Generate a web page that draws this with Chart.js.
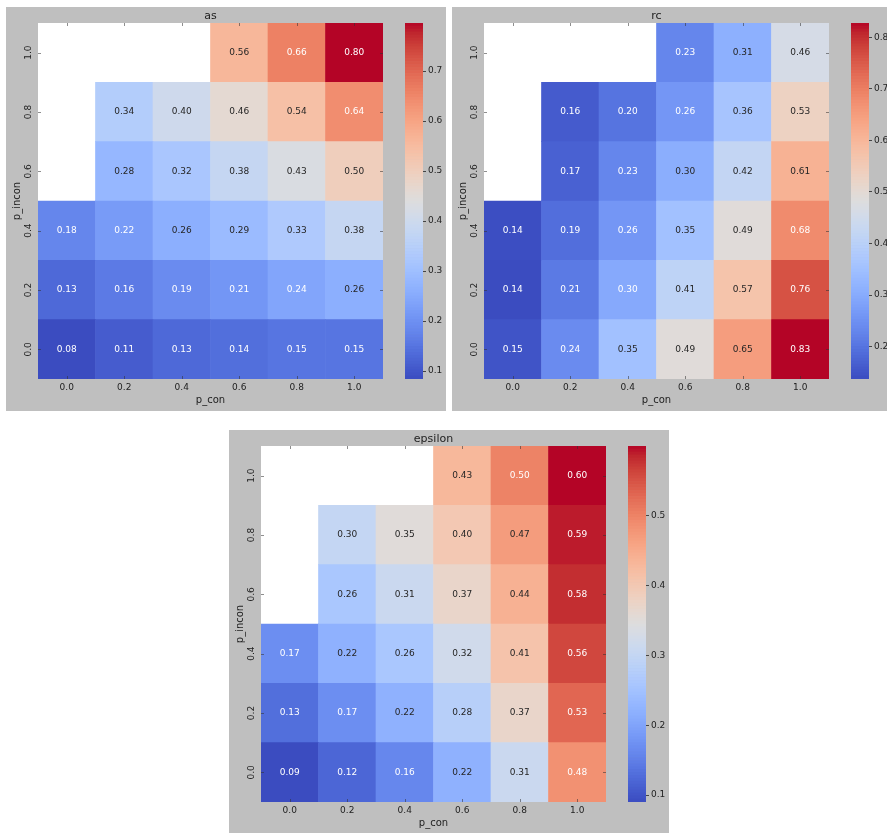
<!DOCTYPE html>
<html>
<head>
<meta charset="utf-8">
<script src="https://cdn.jsdelivr.net/npm/chart.js@4.4.1/dist/chart.umd.min.js"></script>
<style>
body{margin:0;background:#fff;width:887px;height:833px;overflow:hidden;position:relative}
.panel{position:absolute;width:440px;height:404px;background:#bfbfbf;overflow:hidden}
.panel canvas{position:absolute;top:0}
</style>
</head>
<body>
<div class="panel" style="left:6px;top:7px"><canvas id="asMap" width="440" height="404" style="left:0"></canvas><canvas id="asBar" width="41" height="404" style="left:399px"></canvas></div>
<div class="panel" style="left:452px;top:7px"><canvas id="rcMap" width="440" height="404" style="left:0"></canvas><canvas id="rcBar" width="41" height="404" style="left:399px"></canvas></div>
<div class="panel" style="left:229px;top:430px"><canvas id="epsMap" width="440" height="404" style="left:0"></canvas><canvas id="epsBar" width="41" height="404" style="left:399px"></canvas></div>
<script>
// grid axes
var pCon = [0.0, 0.2, 0.4, 0.6, 0.8, 1.0];
var pIncon = [0.0, 0.2, 0.4, 0.6, 0.8, 1.0];
var conLabels = ['0.0', '0.2', '0.4', '0.6', '0.8', '1.0'];
var inconLabels = ['0.0', '0.2', '0.4', '0.6', '0.8', '1.0'];

// rows: p_incon 0.0 -> 1.0, columns: p_con 0.0 -> 1.0 (null = not run)
var asValues = [
	[0.084, 0.11, 0.13, 0.14, 0.15, 0.15],
	[0.13, 0.16, 0.19, 0.21, 0.24, 0.26],
	[0.18, 0.22, 0.26, 0.29, 0.33, 0.38],
	[null, 0.28, 0.32, 0.38, 0.43, 0.50],
	[null, 0.34, 0.40, 0.46, 0.54, 0.64],
	[null, null, null, 0.56, 0.66, 0.796]
];
var rcValues = [
	[0.15, 0.24, 0.35, 0.49, 0.65, 0.828],
	[0.137, 0.21, 0.296, 0.41, 0.57, 0.76],
	[0.14, 0.19, 0.26, 0.35, 0.49, 0.68],
	[null, 0.17, 0.23, 0.305, 0.42, 0.61],
	[null, 0.16, 0.20, 0.26, 0.36, 0.53],
	[null, null, null, 0.23, 0.31, 0.46]
];
var epsValues = [
	[0.09, 0.12, 0.16, 0.22, 0.31, 0.484],
	[0.13, 0.17, 0.22, 0.28, 0.37, 0.53],
	[0.17, 0.22, 0.26, 0.32, 0.41, 0.56],
	[null, 0.26, 0.31, 0.37, 0.44, 0.58],
	[null, 0.30, 0.35, 0.40, 0.47, 0.59],
	[null, null, null, 0.43, 0.50, 0.60]
];

// colorbar ticks
var asTicks = [0.1, 0.2, 0.3, 0.4, 0.5, 0.6, 0.7];
var rcTicks = [0.2, 0.3, 0.4, 0.5, 0.6, 0.7, 0.8];
var epsTicks = [0.1, 0.2, 0.3, 0.4, 0.5];

var FONT = 'DejaVu Sans';
var INK = '#222222';

// coolwarm colormap
var cw = [[59,76,192],[68,90,204],[77,104,215],[87,117,225],[98,130,234],[108,142,241],[119,154,247],[130,165,251],[141,176,254],[152,185,255],[163,194,255],[174,201,253],[184,208,249],[194,213,244],[204,217,238],[213,219,230],[221,221,221],[229,216,209],[236,211,197],[241,204,184],[245,196,172],[247,187,159],[247,177,147],[247,166,134],[244,154,123],[241,141,111],[236,127,99],[229,112,89],[222,96,77],[213,80,67],[203,62,56],[192,40,47],[180,4,38]];

function coolwarm(t){
	t = Math.max(0, Math.min(1, t));
	var f = t * 32, i = Math.min(31, Math.floor(f)), r = f - i;
	var a = cw[i], b = cw[i + 1];
	return [a[0] + (b[0] - a[0]) * r, a[1] + (b[1] - a[1]) * r, a[2] + (b[2] - a[2]) * r];
}
function rgb(c){ return 'rgb(' + Math.round(c[0]) + ',' + Math.round(c[1]) + ',' + Math.round(c[2]) + ')'; }
function luminance(c){
	var l = c.map(function(v){ v = v / 255; return v <= 0.03928 ? v / 12.92 : Math.pow((v + 0.055) / 1.055, 2.4); });
	return 0.2126 * l[0] + 0.7152 * l[1] + 0.0722 * l[2];
}

function heatPlugin(title){
	return {
		id: 'heat',
		beforeDatasetsDraw: function(chart){
			var a = chart.chartArea, ctx = chart.ctx;
			ctx.save();
			ctx.fillStyle = '#ffffff';
			ctx.fillRect(a.left, a.top, a.right - a.left, a.bottom - a.top);
			ctx.restore();
		},
		afterDatasetsDraw: function(chart){
			var a = chart.chartArea, ctx = chart.ctx;
			ctx.save();
			ctx.font = '9px "' + FONT + '"';
			ctx.textAlign = 'center';
			ctx.textBaseline = 'middle';
			chart.data.datasets.forEach(function(ds, r){
				var meta = chart.getDatasetMeta(r);
				ds.values.forEach(function(v, c){
					if (v === null) return;
					var el = meta.data[c];
					ctx.fillStyle = ds.textColors[c];
					ctx.fillText(v.toFixed(2), el.x, (el.y + el.base) / 2);
				});
			});
			// inner tick marks
			ctx.strokeStyle = 'rgba(50,50,50,0.55)';
			ctx.lineWidth = 1;
			ctx.beginPath();
			var sx = chart.scales.x, sy = chart.scales.y;
			sx.ticks.forEach(function(t, i){
				var x = Math.round(sx.getPixelForTick(i)) + 0.5;
				ctx.moveTo(x, a.top); ctx.lineTo(x, a.top + 3);
				ctx.moveTo(x, a.bottom); ctx.lineTo(x, a.bottom - 3);
			});
			sy.ticks.forEach(function(t){
				var y = Math.round(sy.getPixelForValue(t.value)) + 0.5;
				ctx.moveTo(a.left, y); ctx.lineTo(a.left + 3, y);
				ctx.moveTo(a.right, y); ctx.lineTo(a.right - 3, y);
			});
			ctx.stroke();
			// panel title
			ctx.fillStyle = INK;
			ctx.font = '11px "' + FONT + '"';
			ctx.fillText(title, (a.left + a.right) / 2, a.top - 7);
			ctx.restore();
		}
	};
}

function heatmap(id, title, values){
	var flat = [];
	values.forEach(function(row){ row.forEach(function(v){ if (v !== null) flat.push(v); }); });
	var vmin = Math.min.apply(null, flat), vmax = Math.max.apply(null, flat);
	var datasets = pIncon.map(function(y, r){
		var cols = values[r].map(function(v){ return v === null ? null : coolwarm((v - vmin) / (vmax - vmin)); });
		return {
			data: values[r].map(function(v){ return v === null ? null : [y - 0.1, y + 0.1]; }),
			backgroundColor: cols.map(function(c){ return c ? rgb(c) : 'rgba(0,0,0,0)'; }),
			textColors: cols.map(function(c){ return c && luminance(c) > 0.408 ? '#262626' : '#ffffff'; }),
			values: values[r],
			grouped: false,
			barPercentage: 1,
			categoryPercentage: 1,
			borderWidth: 0
		};
	});
	new Chart(document.getElementById(id), {
		type: 'bar',
		data: { labels: conLabels, datasets: datasets },
		options: {
			responsive: false,
			animation: false,
			layout: { padding: { top: 16, right: 63, left: 0, bottom: 0 } },
			plugins: { legend: { display: false }, tooltip: { enabled: false } },
			scales: {
				x: {
					grid: { display: false, drawTicks: false },
					border: { display: false },
					ticks: { color: INK, font: { size: 9, family: FONT }, padding: 3, maxRotation: 0 },
					title: { display: true, text: 'p_con', color: INK, font: { size: 10, family: FONT }, padding: { top: 0, bottom: 5 } },
					afterFit: function(s){ s.height = 32; }
				},
				y: {
					type: 'linear',
					min: -0.1,
					max: 1.1,
					grid: { display: false, drawTicks: false },
					border: { display: false },
					afterBuildTicks: function(s){ s.ticks = pIncon.map(function(v){ return { value: v }; }); },
					ticks: {
						color: INK, font: { size: 9, family: FONT },
						minRotation: 90, maxRotation: 90, crossAlign: 'center', padding: 2,
						callback: function(v, i){ return inconLabels[i]; }
					},
					title: { display: true, text: 'p_incon', color: INK, font: { size: 10, family: FONT }, padding: { top: 5, bottom: 0 } },
					afterFit: function(s){ s.width = 32; }
				}
			}
		},
		plugins: [heatPlugin(title)]
	});
	return [vmin, vmax];
}

function colorbar(id, range, ticks){
	var vmin = range[0], vmax = range[1], n = 120, datasets = [];
	for (var i = 0; i < n; i++) {
		var lo = vmin + (vmax - vmin) * i / n, hi = vmin + (vmax - vmin) * (i + 1) / n;
		datasets.push({
			data: [[lo, hi]],
			backgroundColor: rgb(coolwarm((i + 0.5) / n)),
			grouped: false, barPercentage: 1, categoryPercentage: 1, borderWidth: 0
		});
	}
	new Chart(document.getElementById(id), {
		type: 'bar',
		data: { labels: [''], datasets: datasets },
		options: {
			responsive: false,
			animation: false,
			layout: { padding: { top: 16, bottom: 32, left: 0, right: 0 } },
			plugins: { legend: { display: false }, tooltip: { enabled: false } },
			scales: {
				x: { display: false },
				y: {
					position: 'right',
					min: vmin,
					max: vmax,
					afterBuildTicks: function(s){ s.ticks = ticks.map(function(v){ return { value: v }; }); },
					ticks: { color: INK, font: { size: 9, family: FONT }, padding: 2, callback: function(v, i){ return ticks[i].toFixed(1); } },
					grid: { drawOnChartArea: false, tickLength: 3, color: '#444' },
					border: { display: false },
					afterFit: function(s){ s.width = 23; }
				}
			}
		}
	});
}

colorbar('asBar', heatmap('asMap', 'as', asValues), asTicks);
colorbar('rcBar', heatmap('rcMap', 'rc', rcValues), rcTicks);
colorbar('epsBar', heatmap('epsMap', 'epsilon', epsValues), epsTicks);
</script>
</body>
</html>
